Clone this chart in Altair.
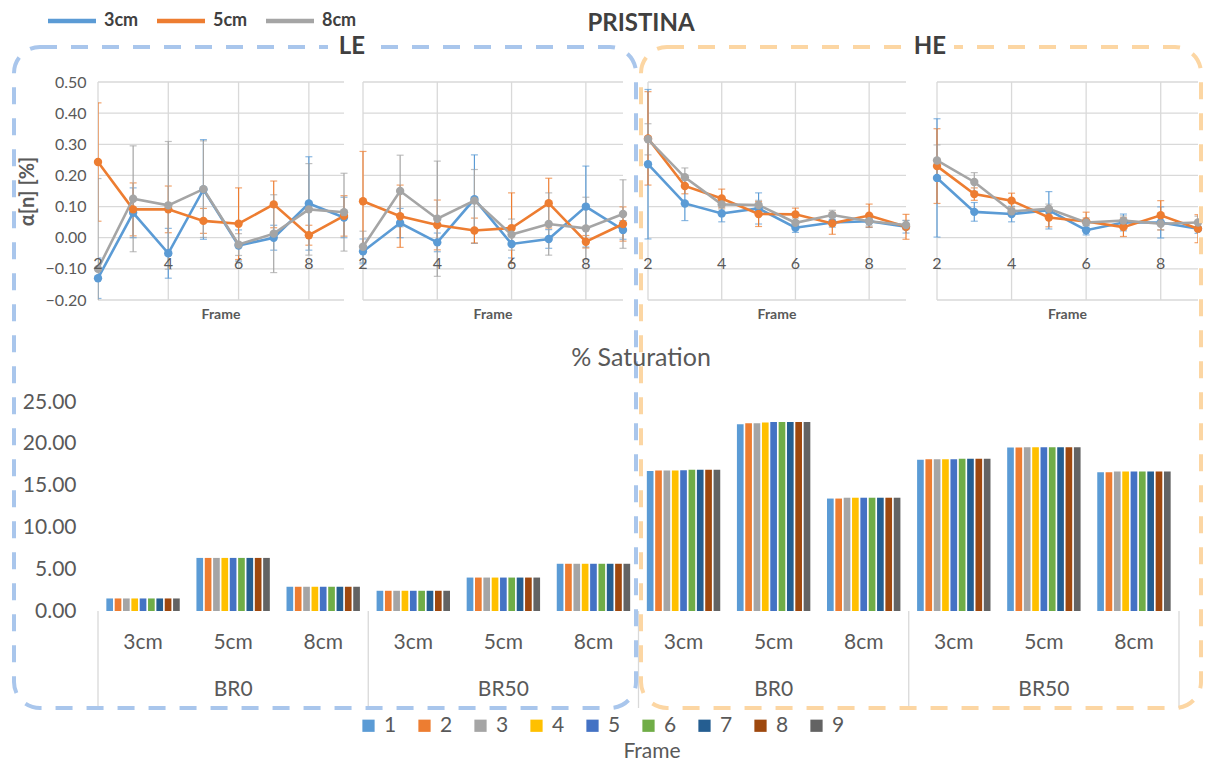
import altair as alt
import pandas as pd

# ---------------- line panels (alpha[n]) ----------------
frames = [2, 3, 4, 5, 6, 7, 8, 9]
series = ["3cm", "5cm", "8cm"]
line_colors = ["#5B9BD5", "#ED7D31", "#A5A5A5"]

# LE, BR0
le1_3 = [-0.130, 0.080, -0.050, 0.155, -0.025, 0.000, 0.110, 0.065]
le1_5 = [0.243, 0.091, 0.091, 0.054, 0.045, 0.107, 0.008, 0.070]
le1_8 = [-0.100, 0.125, 0.104, 0.156, -0.022, 0.013, 0.091, 0.082]
le1_3_err = [0.065, 0.080, 0.080, 0.160, 0.050, 0.040, 0.150, 0.065]
le1_5_err = [0.190, 0.085, 0.075, 0.040, 0.115, 0.075, 0.032, 0.065]
le1_8_err = [0.290, 0.170, 0.205, 0.155, 0.035, 0.125, 0.147, 0.125]

# LE, BR50
le2_3 = [-0.044, 0.047, -0.015, 0.124, -0.020, -0.004, 0.100, 0.025]
le2_5 = [0.117, 0.069, 0.041, 0.023, 0.031, 0.111, -0.013, 0.044]
le2_8 = [-0.029, 0.150, 0.061, 0.119, 0.010, 0.044, 0.030, 0.076]
le2_3_err = [0.040, 0.047, 0.030, 0.142, 0.045, 0.030, 0.130, 0.030]
le2_5_err = [0.160, 0.100, 0.080, 0.040, 0.113, 0.080, 0.020, 0.055]
le2_8_err = [0.050, 0.115, 0.185, 0.100, 0.050, 0.100, 0.100, 0.110]

# HE, BR0
he1_3 = [0.236, 0.110, 0.078, 0.094, 0.032, 0.049, 0.053, 0.035]
he1_5 = [0.319, 0.166, 0.126, 0.076, 0.075, 0.046, 0.071, 0.035]
he1_8 = [0.316, 0.194, 0.107, 0.105, 0.048, 0.073, 0.053, 0.041]
he1_3_err = [0.240, 0.055, 0.027, 0.050, 0.015, 0.015, 0.020, 0.020]
he1_5_err = [0.150, 0.025, 0.030, 0.040, 0.020, 0.035, 0.037, 0.040]
he1_8_err = [0.050, 0.030, 0.015, 0.015, 0.015, 0.015, 0.015, 0.015]

# HE, BR50
he2_3 = [0.192, 0.083, 0.076, 0.088, 0.024, 0.049, 0.049, 0.029]
he2_5 = [0.230, 0.140, 0.119, 0.065, 0.052, 0.034, 0.072, 0.029]
he2_8 = [0.248, 0.179, 0.085, 0.093, 0.049, 0.055, 0.045, 0.049]
he2_3_err = [0.190, 0.030, 0.025, 0.060, 0.015, 0.027, 0.050, 0.015]
he2_5_err = [0.120, 0.020, 0.024, 0.030, 0.030, 0.030, 0.047, 0.045]
he2_8_err = [0.050, 0.030, 0.015, 0.015, 0.015, 0.015, 0.020, 0.020]

y_ticks = [-0.2, -0.1, 0.0, 0.1, 0.2, 0.3, 0.4, 0.5]
x_ticks = [2, 4, 6, 8]

# ---------------- bar chart (% Saturation) ----------------
bar_sizes = ["3cm", "5cm", "8cm"]
bar_groups = ["BR0", "BR50"]
bar_energy = ["LE", "HE"]
frame_labels = ["1", "2", "3", "4", "5", "6", "7", "8", "9"]
bar_colors = ["#5B9BD5", "#ED7D31", "#A5A5A5", "#FFC000", "#4472C4",
              "#70AD47", "#255E91", "#9E480E", "#636363"]

sat_le_br0_3 = [1.50, 1.50, 1.50, 1.50, 1.50, 1.50, 1.50, 1.50, 1.50]
sat_le_br0_5 = [6.35, 6.35, 6.35, 6.35, 6.35, 6.35, 6.35, 6.35, 6.35]
sat_le_br0_8 = [2.90, 2.90, 2.90, 2.90, 2.90, 2.90, 2.90, 2.90, 2.90]
sat_le_br50_3 = [2.42, 2.42, 2.42, 2.42, 2.42, 2.42, 2.42, 2.42, 2.42]
sat_le_br50_5 = [4.00, 4.00, 4.00, 4.00, 4.00, 4.00, 4.00, 4.00, 4.00]
sat_le_br50_8 = [5.65, 5.65, 5.65, 5.65, 5.65, 5.65, 5.65, 5.65, 5.65]
sat_he_br0_3 = [16.75, 16.80, 16.80, 16.80, 16.85, 16.90, 16.90, 16.90, 16.90]
sat_he_br0_5 = [22.35, 22.45, 22.45, 22.55, 22.60, 22.60, 22.60, 22.60, 22.60]
sat_he_br0_8 = [13.45, 13.45, 13.55, 13.55, 13.55, 13.55, 13.55, 13.55, 13.55]
sat_he_br50_3 = [18.10, 18.15, 18.15, 18.15, 18.15, 18.20, 18.20, 18.20, 18.20]
sat_he_br50_5 = [19.55, 19.55, 19.60, 19.60, 19.60, 19.60, 19.60, 19.60, 19.60]
sat_he_br50_8 = [16.60, 16.60, 16.70, 16.70, 16.70, 16.70, 16.70, 16.70, 16.70]

GRID = "#D9D9D9"
TXT = "#595959"
DARK = "#404040"
one = pd.DataFrame({"k": [0]})


def build_df(vals, errs):
    rows = []
    for s, v, e in zip(series, vals, errs):
        for f, y, d in zip(frames, v, e):
            rows.append({"series": s, "frame": f, "value": y, "lo": y - d, "hi": y + d})
    return pd.DataFrame(rows)


TW, TH = 1100, 218
panel_ranges = [[0, 246], [265, 525], [550, 808], [839, 1100]]

ys = alt.Scale(domain=[-0.2, 0.5], nice=False, zero=False)
yax = alt.Axis(values=y_ticks, format=".2f", labelFontSize=16, labelColor=TXT,
               labelPadding=12, ticks=False, domain=False, grid=False,
               title="α[n] [%]", titleFontSize=20, titleFontWeight="bold",
               titleColor=TXT, titlePadding=8)

line_legend = alt.Legend(
    orient="none", legendX=-35, legendY=-70, direction="horizontal", title=None,
    symbolType="M-4,0H4", symbolStrokeWidth=4.5, symbolSize=144, symbolOpacity=1,
    labelFontSize=18, labelFontWeight="bold", labelColor=DARK, labelOffset=23,
    columnPadding=9,
)
color = alt.Color("series:N", scale=alt.Scale(domain=series, range=line_colors),
                  legend=line_legend)


def panel(df, rng):
    xs = alt.Scale(domain=[2, 9], range=rng, nice=False, zero=False)
    hgrid = alt.Chart(pd.DataFrame({"v": y_ticks})).mark_rule(
        color=GRID, strokeWidth=1.3).encode(
        y=alt.Y("v:Q", scale=ys, axis=yax),
        x=alt.XDatum(2, scale=xs, axis=None), x2=alt.datum(9))
    vgrid = alt.Chart(pd.DataFrame({"t": x_ticks})).mark_rule(
        color=GRID, strokeWidth=1.3).encode(
        x=alt.X("t:Q", scale=xs, axis=None),
        y=alt.YDatum(-0.2, scale=ys, axis=yax), y2=alt.datum(0.5))
    base = alt.Chart(df).encode(x=alt.X("frame:Q", scale=xs, axis=None), color=color)
    err = base.mark_errorbar(ticks=True, clip=True, size=7, thickness=1.2).encode(
        y=alt.Y("lo:Q", scale=ys, axis=yax), y2="hi:Q")
    line = base.mark_line(strokeWidth=2.6).encode(y=alt.Y("value:Q", scale=ys, axis=yax))
    pts = base.mark_circle(size=70, opacity=1).encode(y=alt.Y("value:Q", scale=ys, axis=yax))
    labels = alt.Chart(pd.DataFrame({"t": x_ticks})).mark_text(
        fontSize=16, color=TXT, baseline="middle", dy=26).encode(
        x=alt.X("t:Q", scale=xs, axis=None),
        y=alt.YDatum(0, scale=ys, axis=yax), text="t:Q")
    ftitle = alt.Chart(one).mark_text(
        text="Frame", fontSize=14, fontWeight="bold", color=TXT, baseline="top").encode(
        x=alt.XDatum(5.5, scale=xs, axis=None), y=alt.value(TH + 8))
    return alt.layer(hgrid, vgrid, err, line, pts, labels, ftitle)


p1 = panel(build_df([le1_3, le1_5, le1_8], [le1_3_err, le1_5_err, le1_8_err]), panel_ranges[0])
p2 = panel(build_df([le2_3, le2_5, le2_8], [le2_3_err, le2_5_err, le2_8_err]), panel_ranges[1])
p3 = panel(build_df([he1_3, he1_5, he1_8], [he1_3_err, he1_5_err, he1_8_err]), panel_ranges[2])
p4 = panel(build_df([he2_3, he2_5, he2_8], [he2_3_err, he2_5_err, he2_8_err]), panel_ranges[3])

top = alt.layer(p1, p2, p3, p4).resolve_scale(x="independent").properties(
    width=TW, height=TH)

# ---- bar data ----
sat_lists = [sat_le_br0_3, sat_le_br0_5, sat_le_br0_8,
             sat_le_br50_3, sat_le_br50_5, sat_le_br50_8,
             sat_he_br0_3, sat_he_br0_5, sat_he_br0_8,
             sat_he_br50_3, sat_he_br50_5, sat_he_br50_8]
cat_rows = []
for e in bar_energy:
    for g in bar_groups:
        for s in bar_sizes:
            cat_rows.append({"cat": f"{e}-{g}-{s}", "size": s,
                             "grp": g if s == "5cm" else "",
                             "edge": s == "3cm"})
cat_df = pd.DataFrame(cat_rows)
cat_keys = list(cat_df["cat"])

bar_rows = []
for c, vals in zip(cat_keys, sat_lists):
    for f, v in zip(frame_labels, vals):
        bar_rows.append({"cat": c, "frame": f, "value": v})
bar_df = pd.DataFrame(bar_rows)

BW, BH = 1081, 209
xcat = alt.Scale(paddingInner=0, paddingOuter=0)
ybar = alt.Scale(domain=[0, 25], nice=False)
ybar_axis = alt.Axis(values=[0, 5, 10, 15, 20, 25], format=".2f", labelFontSize=21,
                     labelColor=TXT, labelPadding=22, ticks=False, domain=False,
                     gridColor=GRID, gridWidth=1.3, title="")

bar_legend = alt.Legend(
    orient="none", legendX=260, legendY=313, direction="horizontal", columns=9,
    title=None, symbolType="square", symbolSize=150, symbolStrokeWidth=0,
    labelFontSize=21, labelColor=TXT, labelOffset=5, columnPadding=17,
)

bars = alt.Chart(bar_df).mark_bar().encode(
    x=alt.X("cat:N", sort=cat_keys, scale=xcat, axis=None),
    xOffset=alt.XOffset("frame:N", sort=frame_labels,
                        scale=alt.Scale(paddingInner=0.2, paddingOuter=1.0)),
    y=alt.Y("value:Q", scale=ybar, axis=ybar_axis),
    color=alt.Color("frame:N", sort=frame_labels,
                    scale=alt.Scale(domain=frame_labels, range=bar_colors),
                    legend=bar_legend),
)

size_text = alt.Chart(cat_df).mark_text(fontSize=21, color=TXT, baseline="middle").encode(
    x=alt.X("cat:N", sort=cat_keys, scale=xcat, axis=None),
    y=alt.value(BH + 32), text="size:N")
grp_text = alt.Chart(cat_df).mark_text(fontSize=21, color=TXT, baseline="middle").encode(
    x=alt.X("cat:N", sort=cat_keys, scale=xcat, axis=None),
    y=alt.value(BH + 79), text="grp:N")
edge_rules = alt.Chart(cat_df).transform_filter("datum.edge").mark_rule(
    color=GRID, strokeWidth=1.3).encode(
    x=alt.X("cat:N", sort=cat_keys, scale=xcat, axis=None, bandPosition=0),
    y=alt.YDatum(0, scale=ybar, axis=ybar_axis), y2=alt.value(BH + 97))
end_rule = alt.Chart(cat_df.tail(1)).mark_rule(color=GRID, strokeWidth=1.3).encode(
    x=alt.X("cat:N", sort=cat_keys, scale=xcat, axis=None, bandPosition=1),
    y=alt.YDatum(0, scale=ybar, axis=ybar_axis), y2=alt.value(BH + 97))

box_le = alt.Chart(one).mark_rect(
    filled=False, stroke="#A9C6EC", strokeWidth=4, strokeDash=[17, 14], cornerRadius=26).encode(
    x=alt.value(-84), x2=alt.value(538), y=alt.value(-355), y2=alt.value(306))
box_he = alt.Chart(one).mark_rect(
    filled=False, stroke="#FCD6A3", strokeWidth=4, strokeDash=[17, 14], cornerRadius=26).encode(
    x=alt.value(543), x2=alt.value(1103), y=alt.value(-355), y2=alt.value(306))
bg_le = alt.Chart(one).mark_rect(color="white").encode(
    x=alt.value(230), x2=alt.value(278), y=alt.value(-368), y2=alt.value(-342))
bg_he = alt.Chart(one).mark_rect(color="white").encode(
    x=alt.value(808), x2=alt.value(856), y=alt.value(-368), y2=alt.value(-342))
t_le = alt.Chart(one).mark_text(text="LE", fontSize=24, fontWeight="bold", color=DARK).encode(
    x=alt.value(254), y=alt.value(-355))
t_he = alt.Chart(one).mark_text(text="HE", fontSize=24, fontWeight="bold", color=DARK).encode(
    x=alt.value(832), y=alt.value(-355))
t_main = alt.Chart(one).mark_text(text="PRISTINA", fontSize=24, fontWeight="bold", color=DARK).encode(
    x=alt.value(543), y=alt.value(-378))
t_sat = alt.Chart(one).mark_text(text="% Saturation", fontSize=25, color=TXT).encode(
    x=alt.value(543), y=alt.value(-44))
t_frame = alt.Chart(one).mark_text(text="Frame", fontSize=21, color=TXT).encode(
    x=alt.value(554), y=alt.value(350))

bottom = alt.layer(
    edge_rules, end_rule, bars, size_text, grp_text,
    box_le, box_he, bg_le, bg_he, t_le, t_he, t_main, t_sat, t_frame,
).properties(width=BW, height=BH)

chart = alt.vconcat(top, bottom, spacing=102, bounds="flush").resolve_scale(
    color="independent"
).properties(
    padding={"left": 4, "top": 4, "right": 0, "bottom": 0}
).configure(font="Lato").configure_view(strokeWidth=0)

chart.save("out.html", embed_options={"renderer": "svg", "actions": False})
